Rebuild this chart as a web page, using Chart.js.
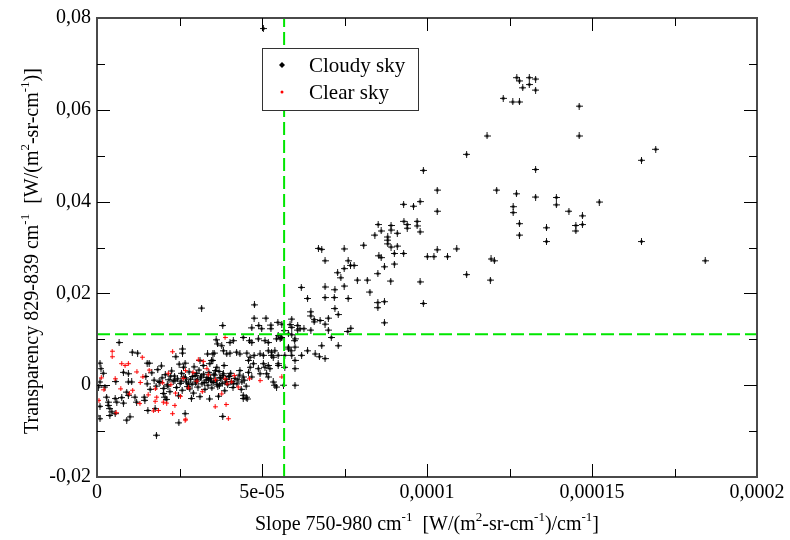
<!DOCTYPE html>
<html>
<head>
<meta charset="utf-8">
<script src="https://cdn.jsdelivr.net/npm/chart.js@4.4.0/dist/chart.umd.min.js"></script>
<style>
  html, body { margin: 0; padding: 0; background: #fff; }
</style>
</head>
<body>
<canvas id="grafica" width="790" height="540"></canvas>
<script>
/* Transparencia vs pendiente, cielo nublado / despejado */

// Ejes
const ticksX = [0, 5e-5, 10e-5, 15e-5, 20e-5];
const etiquetasX = ["0", "5e-05", "0,0001", "0,00015", "0,0002"];
const menoresX = [2.5e-5, 7.5e-5, 12.5e-5, 17.5e-5];
const ticksY = [-0.02, 0, 0.02, 0.04, 0.06, 0.08];
const etiquetasY = ["-0,02", "0", "0,02", "0,04", "0,06", "0,08"];
const menoresY = [-0.01, 0.01, 0.03, 0.05, 0.07];

// Umbrales (líneas verdes)
const corteX = 5.67e-5;
const corteY = 11.1e-3;

// Cloudy sky
const nubesX = [
  12.72e-5, 12.80e-5, 13.10e-5, 13.29e-5, 12.90e-5, 13.10e-5, 13.29e-5, 12.31e-5, 12.60e-5, 12.80e-5,
  14.61e-5, 11.82e-5, 14.61e-5, 11.20e-5, 9.89e-5, 13.29e-5, 10.31e-5, 12.11e-5, 9.79e-5, 12.71e-5,
  13.29e-5, 13.92e-5, 13.92e-5, 10.31e-5, 12.61e-5, 12.61e-5, 14.30e-5, 14.71e-5, 14.71e-5, 14.51e-5,
  14.51e-5, 12.80e-5, 12.80e-5, 13.62e-5, 13.62e-5, 9.79e-5, 10.01e-5, 10.21e-5, 10.62e-5, 10.31e-5,
  10.90e-5, 11.94e-5, 12.04e-5, 11.20e-5, 11.92e-5, 9.79e-5, 16.50e-5, 16.93e-5, 15.22e-5, 16.50e-5,
  18.43e-5, 5.04e-5, 9.29e-5, 9.59e-5, 9.30e-5, 9.40e-5, 9.40e-5, 9.70e-5, 9.70e-5, 9.29e-5,
  8.52e-5, 8.61e-5, 8.91e-5, 8.91e-5, 9.10e-5, 8.42e-5, 8.81e-5, 8.81e-5, 8.81e-5, 8.91e-5,
  9.10e-5, 9.01e-5, 8.54e-5, 8.61e-5, 6.71e-5, 6.81e-5, 7.49e-5, 8.08e-5, 6.91e-5, 7.61e-5,
  7.68e-5, 7.79e-5, 7.49e-5, 7.29e-5, 7.39e-5, 7.89e-5, 8.19e-5, 8.51e-5, 8.71e-5, 9.01e-5,
  8.90e-5, 6.91e-5, 7.49e-5, 6.19e-5, 7.21e-5, 6.91e-5, 7.19e-5, 7.61e-5, 6.38e-5, 8.27e-5,
  8.51e-5, 8.51e-5, 8.71e-5, 9.89e-5, 7.21e-5, 7.31e-5, 6.48e-5, 6.48e-5, 6.58e-5, 6.58e-5,
  7.01e-5, 6.91e-5, 7.01e-5, 8.71e-5, 5.90e-5, 6.08e-5, 6.08e-5, 6.15e-5, 6.27e-5, 6.48e-5,
  7.60e-5, 7.69e-5, 7.10e-5, 5.60e-5, 5.58e-5, 5.80e-5, 5.90e-5, 5.99e-5, 5.80e-5, 6.00e-5,
  6.38e-5, 6.81e-5, 7.31e-5, 6.61e-5, 6.74e-5, 6.91e-5, 6.20e-5, 5.90e-5, 6.00e-5, 5.69e-5,
  5.69e-5, 6.00e-5, 5.12e-5, 4.76e-5, 3.81e-5, 4.69e-5, 4.90e-5, 4.99e-5, 5.27e-5, 5.27e-5,
  5.48e-5, 5.85e-5, 5.90e-5, 6.76e-5, 4.43e-5, 4.62e-5, 4.69e-5, 4.89e-5, 5.09e-5, 5.19e-5,
  5.49e-5, 5.60e-5, 5.44e-5, 5.55e-5, 5.67e-5, 5.80e-5, 5.88e-5, 6.00e-5, 4.03e-5, 4.13e-5,
  3.65e-5, 3.78e-5, 5.19e-5, 5.29e-5, 5.39e-5, 5.29e-5, 5.34e-5, 4.94e-5, 5.04e-5, 4.54e-5,
  4.64e-5, 4.76e-5, 4.23e-5, 4.33e-5, 3.83e-5, 3.93e-5, 4.03e-5, 3.51e-5, 3.51e-5, 5.49e-5,
  5.49e-5, 5.49e-5, 5.04e-5, 5.09e-5, 5.19e-5, 5.24e-5, 5.14e-5, 5.19e-5, 4.74e-5, 4.89e-5,
  4.94e-5, 4.59e-5, 4.64e-5, 4.59e-5, 4.69e-5, 4.33e-5, 4.43e-5, 4.39e-5, 5.34e-5, 5.44e-5,
  6.00e-5, 5.65e-5, 5.39e-5, 4.43e-5, 4.43e-5, 3.81e-5, 3.17e-5, 4.77e-5, 3.61e-5, 3.35e-5,
  3.55e-5, 0.67e-5, 1.07e-5, 1.23e-5, 1.52e-5, 1.58e-5, 2.59e-5, 2.59e-5, 2.39e-5, 2.67e-5,
  2.62e-5, 0.09e-5, 0.12e-5, 0.19e-5, 0.09e-5, 0.04e-5, 0.24e-5, 0.57e-5, 0.80e-5, 0.95e-5,
  0.95e-5, 1.05e-5, 0.29e-5, 0.34e-5, 0.34e-5, 0.09e-5, 0.00e-5, 0.09e-5, 0.39e-5, 0.45e-5,
  0.55e-5, 0.39e-5, 0.55e-5, 0.60e-5, 0.75e-5, 0.80e-5, 0.90e-5, 0.95e-5, 0.90e-5, 1.00e-5,
  1.15e-5, 1.20e-5, 1.43e-5, 1.45e-5, 1.54e-5, 1.76e-5, 1.80e-5, 2.48e-5, 2.67e-5, 2.01e-5,
  2.06e-5, 2.11e-5, 1.48e-5, 1.52e-5, 1.61e-5, 1.66e-5, 1.73e-5, 1.79e-5, 1.84e-5, 1.88e-5,
  1.97e-5, 2.02e-5, 2.07e-5, 2.13e-5, 2.18e-5, 2.21e-5, 2.26e-5, 2.31e-5, 2.35e-5, 2.41e-5,
  2.44e-5, 2.52e-5, 2.56e-5, 2.58e-5, 2.63e-5, 2.71e-5, 2.74e-5, 2.79e-5, 2.83e-5, 2.88e-5,
  2.92e-5, 2.97e-5, 3.01e-5, 3.06e-5, 3.09e-5, 3.14e-5, 3.18e-5, 3.23e-5, 3.27e-5, 3.31e-5,
  3.36e-5, 3.39e-5, 3.44e-5, 3.48e-5, 3.52e-5, 3.57e-5, 3.61e-5, 3.66e-5, 3.70e-5, 3.73e-5,
  3.79e-5, 3.83e-5, 3.87e-5, 3.92e-5, 3.96e-5, 4.02e-5, 4.07e-5, 4.12e-5, 4.18e-5, 4.24e-5,
  4.31e-5, 4.37e-5, 4.46e-5, 4.52e-5, 2.47e-5, 2.86e-5, 3.12e-5, 3.41e-5, 3.68e-5, 4.52e-5,
  4.55e-5, 1.95e-5, 2.49e-5, 2.94e-5, 3.42e-5, 3.85e-5, 3.12e-5, 3.22e-5, 3.47e-5, 3.63e-5,
  2.55e-5, 2.68e-5, 2.77e-5, 2.89e-5, 2.99e-5, 3.04e-5, 3.16e-5, 3.25e-5, 3.33e-5, 3.46e-5,
  3.54e-5, 3.64e-5, 3.75e-5, 3.81e-5, 3.89e-5, 3.99e-5, 4.05e-5, 4.14e-5, 2.36e-5, 2.23e-5,
  3.02e-5, 3.38e-5, 3.71e-5, 2.81e-5, 4.27e-5, 1.91e-5, 2.15e-5, 3.59e-5
];
const nubesY = [
  67.0e-3, 66.3e-3, 67.0e-3, 66.7e-3, 64.8e-3, 65.5e-3, 64.3e-3, 62.5e-3, 61.7e-3, 61.7e-3,
  60.8e-3, 54.3e-3, 54.3e-3, 50.3e-3, 46.8e-3, 47.0e-3, 42.5e-3, 42.5e-3, 40.0e-3, 41.7e-3,
  41.0e-3, 40.9e-3, 39.3e-3, 37.9e-3, 38.9e-3, 37.6e-3, 37.9e-3, 36.9e-3, 35.0e-3, 34.8e-3,
  33.6e-3, 35.2e-3, 32.7e-3, 34.3e-3, 31.3e-3, 33.4e-3, 28.0e-3, 28.0e-3, 28.0e-3, 29.5e-3,
  29.7e-3, 27.5e-3, 27.1e-3, 24.1e-3, 22.9e-3, 22.5e-3, 49.0e-3, 51.4e-3, 39.9e-3, 31.3e-3,
  27.1e-3, 77.7e-3, 39.4e-3, 39.0e-3, 35.7e-3, 35.0e-3, 34.2e-3, 35.7e-3, 34.7e-3, 28.7e-3,
  35.0e-3, 33.6e-3, 34.8e-3, 33.8e-3, 33.1e-3, 32.7e-3, 32.3e-3, 31.6e-3, 30.8e-3, 30.1e-3,
  30.3e-3, 28.7e-3, 28.2e-3, 27.8e-3, 29.8e-3, 29.6e-3, 29.7e-3, 30.5e-3, 27.1e-3, 27.1e-3,
  26.1e-3, 26.1e-3, 25.4e-3, 24.5e-3, 23.4e-3, 22.9e-3, 22.9e-3, 24.3e-3, 25.8e-3, 26.4e-3,
  22.7e-3, 21.4e-3, 21.6e-3, 21.3e-3, 20.8e-3, 19.1e-3, 19.1e-3, 18.9e-3, 18.9e-3, 20.3e-3,
  18.0e-3, 16.9e-3, 18.2e-3, 17.8e-3, 16.7e-3, 15.4e-3, 16.0e-3, 15.1e-3, 14.3e-3, 13.8e-3,
  14.6e-3, 13.3e-3, 12.0e-3, 13.6e-3, 14.4e-3, 13.0e-3, 12.0e-3, 12.3e-3, 12.3e-3, 12.0e-3,
  11.7e-3, 12.4e-3, 10.4e-3, 13.3e-3, 10.4e-3, 11.2e-3, 11.0e-3, 9.7e-3, 7.9e-3, 8.3e-3,
  7.5e-3, 8.6e-3, 8.6e-3, 6.8e-3, 6.2e-3, 5.8e-3, 6.5e-3, 6.5e-3, 5.4e-3, 6.5e-3,
  3.9e-3, 3.6e-3, 14.6e-3, 14.6e-3, 13.0e-3, 12.5e-3, 13.0e-3, 12.3e-3, 13.1e-3, 12.3e-3,
  13.7e-3, 13.2e-3, 12.6e-3, 14.1e-3, 10.4e-3, 9.7e-3, 9.3e-3, 10.1e-3, 9.7e-3, 9.3e-3,
  10.8e-3, 10.4e-3, 10.1e-3, 10.1e-3, 11.9e-3, 8.3e-3, 7.5e-3, 10.1e-3, 9.3e-3, 9.7e-3,
  9.0e-3, 8.6e-3, 7.5e-3, 7.2e-3, 7.5e-3, 6.5e-3, 6.1e-3, 6.8e-3, 6.5e-3, 7.0e-3,
  6.1e-3, 6.5e-3, 7.2e-3, 6.8e-3, 7.5e-3, 6.8e-3, 7.0e-3, 6.8e-3, 5.4e-3, 6.5e-3,
  4.7e-3, 4.3e-3, 4.7e-3, 3.9e-3, 4.3e-3, 3.6e-3, 2.5e-3, 1.8e-3, 4.7e-3, 3.6e-3,
  2.5e-3, 5.4e-3, 3.9e-3, 2.8e-3, 1.8e-3, 3.2e-3, 1.8e-3, 0.7e-3, 0.7e-3, -0.4e-3,
  0.0e-3, 0.0e-3, 0.0e-3, -2.2e-3, -2.9e-3, -6.8e-3, 16.8e-3, 17.5e-3, 9.9e-3, 6.8e-3,
  7.0e-3, 9.3e-3, 7.2e-3, 7.0e-3, 4.8e-3, 4.8e-3, 7.9e-3, 7.0e-3, 6.2e-3, 4.8e-3,
  3.9e-3, 4.8e-3, 3.6e-3, 2.6e-3, 0.7e-3, -0.4e-3, -0.4e-3, 0.8e-3, 2.8e-3, 2.5e-3,
  0.7e-3, 0.7e-3, -2.6e-3, -3.7e-3, -4.4e-3, -4.6e-3, -6.7e-3, -7.3e-3, -5.1e-3, -5.8e-3,
  -6.2e-3, -6.6e-3, -2.9e-3, -3.7e-3, -2.7e-3, -3.9e-3, -1.5e-3, -2.2e-3, -7.6e-3, -6.9e-3,
  -2.6e-3, -3.7e-3, -2.6e-3, -3.3e-3, -5.5e-3, -5.1e-3, -10.9e-3, -8.2e-3, -6.2e-3, -1.8e-3,
  -2.6e-3, -3.1e-3, 1.9e-3, 0.3e-3, -0.9e-3, 2.7e-3, 1.1e-3, -0.2e-3, 3.4e-3, 0.8e-3,
  1.6e-3, -0.7e-3, 2.3e-3, 0.1e-3, 1.2e-3, -1.4e-3, 3.1e-3, 0.9e-3, 2.0e-3, -0.5e-3,
  1.4e-3, 0.4e-3, 2.6e-3, -1.1e-3, 1.8e-3, 0.7e-3, -0.3e-3, 2.9e-3, 1.3e-3, 0.2e-3,
  -1.7e-3, 2.1e-3, 0.9e-3, -0.4e-3, 3.3e-3, 1.6e-3, 0.3e-3, 2.4e-3, -0.9e-3, 1.1e-3,
  0.0e-3, 2.8e-3, 1.5e-3, -0.6e-3, 0.6e-3, 2.2e-3, 1.0e-3, -0.2e-3, 3.0e-3, 1.7e-3,
  0.4e-3, 2.5e-3, -1.2e-3, 1.3e-3, 0.1e-3, 2.0e-3, 0.8e-3, -0.5e-3, 1.5e-3, 0.3e-3,
  2.2e-3, -0.9e-3, 1.1e-3, -0.2e-3, -2.3e-3, -2.9e-3, -2.5e-3, -3.0e-3, -2.4e-3, -2.6e-3,
  -3.0e-3, 4.2e-3, 4.6e-3, 4.0e-3, 4.7e-3, 4.3e-3, 5.4e-3, 4.3e-3, 5.4e-3, 3.9e-3,
  0.9e-3, 1.6e-3, 0.3e-3, 1.9e-3, 0.5e-3, 1.2e-3, 2.0e-3, 0.6e-3, 1.7e-3, 0.9e-3,
  2.4e-3, 0.2e-3, 1.4e-3, 2.1e-3, 0.7e-3, 1.9e-3, 2.6e-3, 0.4e-3, 1.1e-3, 2.0e-3,
  2.6e-3, 1.3e-3, 0.0e-3, -0.8e-3, 1.2e-3, 0.6e-3, -0.2e-3, 3.2e-3
];

// Clear sky
const despejadoX = [
  0.46e-5, 0.46e-5, 1.37e-5, 2.29e-5, 3.07e-5, 3.22e-5, 0.75e-5, 0.85e-5, 0.95e-5, 0.55e-5,
  0.06e-5, 0.58e-5, 1.30e-5, 1.71e-5, 1.76e-5, 1.81e-5, 2.01e-5, 2.11e-5, 1.86e-5, 2.29e-5,
  2.67e-5, 2.36e-5, 3.88e-5, 3.91e-5, 3.58e-5, 3.98e-5, 3.88e-5, 4.08e-5, 4.28e-5, 5.60e-5,
  4.94e-5, 4.62e-5, 2.69e-5, 1.21e-5, 1.39e-5, 1.58e-5, 1.77e-5, 1.99e-5, 2.16e-5, 2.38e-5,
  2.61e-5, 2.77e-5, 3.03e-5, 3.19e-5, 3.37e-5, 3.59e-5, 3.78e-5, 1.08e-5, 0.72e-5, 1.31e-5,
  2.91e-5, 3.33e-5, 2.53e-5, 0.21e-5, 0.13e-5, 2.24e-5, 2.68e-5, 3.94e-5, 4.16e-5, 1.55e-5,
  0.98e-5
];
const despejadoY = [
  7.4e-3, 6.2e-3, 6.1e-3, 7.3e-3, 5.5e-3, 5.2e-3, 4.7e-3, 4.3e-3, 4.7e-3, 1.4e-3,
  -3.3e-3, -6.0e-3, -4.0e-3, -5.6e-3, -3.5e-3, -2.6e-3, -3.7e-3, -3.9e-3, -5.5e-3, -6.2e-3,
  -7.6e-3, -4.4e-3, 10.4e-3, -4.2e-3, -4.7e-3, -7.3e-3, 1.4e-3, 0.7e-3, -0.4e-3, 1.8e-3,
  1.0e-3, 1.4e-3, -7.4e-3, 2.9e-3, 1.8e-3, 3.3e-3, -0.8e-3, 0.5e-3, 2.6e-3, -1.7e-3,
  1.5e-3, -0.6e-3, 0.9e-3, -1.4e-3, 2.3e-3, 1.2e-3, -1.9e-3, -1.1e-3, -0.8e-3, 0.6e-3,
  2.8e-3, 3.6e-3, -2.4e-3, -1.0e-3, 1.6e-3, 0.1e-3, 3.2e-3, 0.3e-3, 2.1e-3, -2.1e-3,
  -1.9e-3
];

const puntosNubes = nubesX.map((x, i) => ({ x: x, y: nubesY[i] }));
const puntosDespejado = despejadoX.map((x, i) => ({ x: x, y: despejadoY[i] }));

const fuente = '"Liberation Serif", "Times New Roman", serif';
const verde = "rgb(0,230,0)";

// Marcas: cruz pequeña con rombo al centro
function crearMarca(color, brazo, rombo, alfa) {
  const c = document.createElement("canvas");
  const n = brazo * 2 + 1;
  c.width = n;
  c.height = n;
  const g = c.getContext("2d");
  const m = brazo + 0.5;
  g.fillStyle = color;
  g.globalAlpha = alfa;
  g.fillRect(0, brazo, n, 1);
  g.fillRect(brazo, 0, 1, n);
  g.globalAlpha = 1;
  g.beginPath();
  g.moveTo(m, m - rombo);
  g.lineTo(m + rombo, m);
  g.lineTo(m, m + rombo);
  g.lineTo(m - rombo, m);
  g.closePath();
  g.fill();
  return c;
}
const marcaNegra = crearMarca("#000", 3, 2, 0.9);
const marcaRoja = crearMarca("#ff0000", 2, 1.4, 0.85);

// Texto con superíndices
function textoRico(ctx, partes, x, y) {
  const normal = "20px " + fuente;
  const sup = "13px " + fuente;
  let total = 0;
  partes.forEach(p => {
    ctx.font = p[1] ? sup : normal;
    total += ctx.measureText(p[0]).width;
  });
  let cx = x - total / 2;
  ctx.textAlign = "left";
  ctx.textBaseline = "alphabetic";
  partes.forEach(p => {
    ctx.font = p[1] ? sup : normal;
    ctx.fillText(p[0], cx, p[1] ? y - 9 : y);
    cx += ctx.measureText(p[0]).width;
  });
}

const tituloX = [["Slope 750-980 cm", 0], ["-1", 1], ["  [W/(m", 0], ["2", 1], ["-sr-cm", 0], ["-1", 1], [")/cm", 0], ["-1", 1], ["]", 0]];
const tituloY = [["Transparency 829-839 cm", 0], ["-1", 1], ["  [W/(m", 0], ["2", 1], ["-sr-cm", 0], ["-1", 1], [")]", 0]];

const decorado = {
  id: "decorado",
  afterDatasetsDraw(chart) {
    const ctx = chart.ctx;
    const a = chart.chartArea;
    const sx = chart.scales.x, sy = chart.scales.y;
    ctx.save();
    // marco
    ctx.strokeStyle = "#4a4a4a";
    ctx.lineWidth = 2;
    ctx.strokeRect(a.left, a.top, a.right - a.left, a.bottom - a.top);
    // ticks hacia dentro
    ctx.strokeStyle = "#000";
    ctx.lineWidth = 1;
    ctx.beginPath();
    const tickX = (v, l) => {
      const p = Math.round(sx.getPixelForValue(v)) + 0.5;
      ctx.moveTo(p, a.bottom); ctx.lineTo(p, a.bottom - l);
      ctx.moveTo(p, a.top); ctx.lineTo(p, a.top + l);
    };
    const tickY = (v, l) => {
      const p = Math.round(sy.getPixelForValue(v)) + 0.5;
      ctx.moveTo(a.left, p); ctx.lineTo(a.left + l, p);
      ctx.moveTo(a.right, p); ctx.lineTo(a.right - l, p);
    };
    ticksX.slice(1, -1).forEach(v => tickX(v, 13));
    menoresX.forEach(v => tickX(v, 8));
    ticksY.slice(1, -1).forEach(v => tickY(v, 13));
    menoresY.forEach(v => tickY(v, 8));
    ctx.stroke();
    ctx.restore();
  },
  afterDraw(chart) {
    const ctx = chart.ctx;
    const a = chart.chartArea;
    ctx.save();
    ctx.fillStyle = "#000";
    // títulos de ejes
    textoRico(ctx, tituloX, (a.left + a.right) / 2, 530);
    ctx.save();
    ctx.translate(38, 251);
    ctx.rotate(-Math.PI / 2);
    textoRico(ctx, tituloY, 0, 0);
    ctx.restore();
    // leyenda
    const bx = 262.5, by = 48.5, bw = 156, bh = 62;
    ctx.fillStyle = "#fff";
    ctx.fillRect(bx, by, bw, bh);
    ctx.strokeStyle = "#333";
    ctx.lineWidth = 1;
    ctx.strokeRect(bx, by, bw, bh);
    const ds = chart.data.datasets;
    ctx.fillStyle = "#000";
    ctx.beginPath();
    ctx.moveTo(282, 62); ctx.lineTo(285, 65); ctx.lineTo(282, 68); ctx.lineTo(279, 65);
    ctx.closePath();
    ctx.fill();
    ctx.fillStyle = "#ff0000";
    ctx.beginPath();
    ctx.arc(282, 92, 1.5, 0, Math.PI * 2);
    ctx.fill();
    ctx.fillStyle = "#000";
    ctx.font = "21px " + fuente;
    ctx.textAlign = "left";
    ctx.textBaseline = "alphabetic";
    ctx.fillText(ds[0].label, 309, 72);
    ctx.fillText(ds[1].label, 309, 99);
    ctx.restore();
  }
};

const ctx = document.getElementById("grafica").getContext("2d");
new Chart(ctx, {
  type: "scatter",
  data: {
    datasets: [
      {
        label: "Cloudy sky",
        data: puntosNubes,
        pointStyle: marcaNegra,
        pointRadius: 3.5,
        order: 3
      },
      {
        label: "Clear sky",
        data: puntosDespejado,
        pointStyle: marcaRoja,
        pointRadius: 2.5,
        order: 2
      },
      {
        type: "line",
        label: "corteX",
        data: [{ x: corteX, y: -0.02 }, { x: corteX, y: 0.08 }],
        borderColor: verde,
        borderWidth: 2,
        borderDash: [13, 5],
        pointRadius: 0,
        order: 1
      },
      {
        type: "line",
        label: "corteY",
        data: [{ x: 0, y: corteY }, { x: 2e-4, y: corteY }],
        borderColor: verde,
        borderWidth: 2,
        borderDash: [13, 5],
        pointRadius: 0,
        order: 1
      }
    ]
  },
  options: {
    responsive: false,
    animation: false,
    layout: { padding: { left: 0, right: 33, top: 16, bottom: 0 } },
    plugins: { legend: { display: false }, tooltip: { enabled: false } },
    scales: {
      x: {
        type: "linear",
        min: 0,
        max: 2e-4,
        grid: { display: false, drawTicks: false },
        border: { display: false },
        afterBuildTicks: s => { s.ticks = ticksX.map(v => ({ value: v })); },
        afterFit: s => { s.height = 63; },
        ticks: {
          callback: (v, i) => etiquetasX[i],
          color: "#000",
          font: { family: fuente, size: 20 },
          maxRotation: 0,
          autoSkip: false,
          padding: 4
        }
      },
      y: {
        type: "linear",
        min: -0.02,
        max: 0.08,
        grid: { display: false, drawTicks: false },
        border: { display: false },
        afterBuildTicks: s => { s.ticks = ticksY.map(v => ({ value: v })); },
        afterFit: s => { s.width = 97; },
        ticks: {
          callback: (v, i) => etiquetasY[i],
          color: "#000",
          font: { family: fuente, size: 20 },
          autoSkip: false,
          padding: 6
        }
      }
    }
  },
  plugins: [decorado]
});
</script>
</body>
</html>
